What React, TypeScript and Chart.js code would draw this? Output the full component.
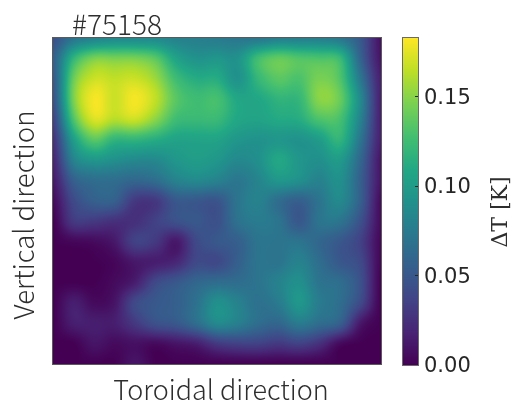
import React, { useEffect, useRef } from "react";
import { Chart, registerables } from "chart.js";

Chart.register(...registerables);

const figureTitle = "#75158";
const xLabel = "Toroidal direction";
const yLabel = "Vertical direction";
const colorbarLabel = "ΔT [K]";
const colorbarTicks = [0, 0.05, 0.1, 0.15];
const colorMax = 0.1825;
const viridisStops = ["#440154", "#482475", "#414487", "#355f8d", "#2a788e", "#21918c", "#22a884", "#44bf70", "#7ad151", "#bddf26", "#fde725"];

// Temperature change in mK, read row by row (top to bottom) from the picture
const deltaT_mK = [
  [45, 70, 80, 85, 85, 85, 80, 78, 75, 72, 72, 78, 78, 78, 72, 50, 8],
  [55, 118, 145, 145, 145, 135, 105, 92, 95, 92, 125, 138, 132, 130, 122, 58, 10],
  [50, 140, 168, 165, 168, 155, 125, 112, 112, 92, 120, 135, 130, 145, 132, 72, 15],
  [45, 145, 180, 168, 180, 165, 135, 125, 128, 108, 108, 118, 120, 150, 140, 85, 15],
  [35, 130, 172, 162, 168, 150, 125, 122, 122, 108, 105, 110, 112, 130, 128, 80, 15],
  [25, 100, 135, 118, 118, 112, 105, 105, 105, 95, 92, 95, 92, 100, 118, 70, 15],
  [18, 80, 95, 90, 85, 85, 95, 100, 95, 85, 90, 108, 95, 90, 98, 60, 10],
  [12, 55, 65, 65, 60, 65, 80, 85, 80, 72, 82, 95, 90, 80, 90, 55, 10],
  [5, 40, 55, 55, 30, 30, 50, 50, 48, 70, 80, 65, 55, 70, 85, 55, 5],
  [0, 30, 30, 25, 25, 35, 45, 50, 45, 68, 75, 70, 50, 70, 70, 45, 5],
  [0, 3, 5, 12, 35, 30, 12, 40, 50, 55, 70, 70, 70, 60, 50, 35, 3],
  [0, 0, 0, 3, 12, 15, 20, 40, 40, 55, 70, 70, 80, 65, 50, 40, 2],
  [0, 0, 0, 5, 15, 40, 50, 60, 65, 65, 70, 80, 90, 70, 65, 45, 0],
  [0, 15, 5, 10, 40, 50, 55, 68, 90, 80, 68, 75, 95, 75, 65, 40, 0],
  [0, 15, 15, 15, 30, 45, 50, 65, 85, 78, 65, 60, 75, 65, 55, 12, 0],
  [0, 0, 10, 5, 8, 5, 10, 15, 30, 35, 35, 30, 35, 25, 5, 0, 0],
  [0, 0, 0, 0, 10, 0, 0, 0, 0, 0, 0, 0, 0, 0, 0, 0, 0],
];

function hexToRgb(h: string) {
  return [1, 3, 5].map((i) => parseInt(h.slice(i, i + 2), 16));
}
const stopRgb = viridisStops.map(hexToRgb);

function viridis(t: number) {
  const c = Math.min(1, Math.max(0, t)) * (stopRgb.length - 1);
  const i = Math.min(stopRgb.length - 2, Math.floor(c));
  const f = c - i;
  return stopRgb[i].map((v, k) => v + (stopRgb[i + 1][k] - v) * f);
}

function cubic(a: number, b: number, c: number, d: number, t: number) {
  return b + 0.5 * t * (c - a + t * (2 * a - 5 * b + 4 * c - d + t * (3 * (b - c) + d - a)));
}

function sample(u: number, v: number) {
  const n = deltaT_mK.length - 1;
  const m = deltaT_mK[0].length - 1;
  const r = Math.min(n - 1, Math.max(0, Math.floor(v)));
  const c = Math.min(m - 1, Math.max(0, Math.floor(u)));
  const rowVal = (ri: number) => {
    const row = deltaT_mK[Math.min(n, Math.max(0, ri))];
    const g = (k: number) => row[Math.min(m, Math.max(0, k))];
    return cubic(g(c - 1), g(c), g(c + 1), g(c + 2), u - c);
  };
  return cubic(rowVal(r - 1), rowVal(r), rowVal(r + 1), rowVal(r + 2), v - r) / 1000;
}

const sansFont = '"Noto Sans CJK JP", "Noto Sans", sans-serif';
const textColor = "#2e2e2e";

function drawText(ctx: CanvasRenderingContext2D, text: string, x: number, y: number, font: string, rotate = 0, align: CanvasTextAlign = "center") {
  ctx.save();
  ctx.translate(x, y);
  ctx.rotate(rotate);
  ctx.font = font;
  ctx.fillStyle = textColor;
  ctx.textAlign = align;
  ctx.textBaseline = "middle";
  ctx.fillText(text, 0, 0);
  ctx.restore();
}

const heatmapPlugin = {
  id: "heatmap",
  beforeDatasetsDraw(chart: any) {
    const { ctx, chartArea: a, scales } = chart;
    const left = Math.round(a.left);
    const top = Math.round(a.top);
    const w = Math.round(a.right) - left;
    const h = Math.round(a.bottom) - top;
    const img = ctx.createImageData(w, h);
    for (let py = 0; py < h; py++) {
      const v = scales.y.getValueForPixel(top + py + 0.5);
      for (let px = 0; px < w; px++) {
        const u = scales.x.getValueForPixel(left + px + 0.5);
        const [r, g, b] = viridis(sample(u, v) / colorMax);
        const o = (py * w + px) * 4;
        img.data[o] = r;
        img.data[o + 1] = g;
        img.data[o + 2] = b;
        img.data[o + 3] = 255;
      }
    }
    ctx.putImageData(img, left, top);
  },
  afterDraw(chart: any) {
    const { ctx, chartArea: a } = chart;
    ctx.save();
    ctx.strokeStyle = "#5a5a5a";
    ctx.lineWidth = 1;
    ctx.strokeRect(Math.round(a.left) - 0.5, Math.round(a.top) - 0.5, a.width + 1, a.height + 1);
    ctx.restore();
    drawText(ctx, figureTitle, a.left + 19, a.top - 14, `300 28px ${sansFont}`, 0, "left");
    drawText(ctx, xLabel, a.left + 168, a.bottom + 26, `300 27px ${sansFont}`);
    drawText(ctx, yLabel, 24, a.top + 177, `300 27.5px ${sansFont}`, -Math.PI / 2);
  },
};

const colorbarPlugin = {
  id: "colorbarDecor",
  afterDraw(chart: any) {
    const { ctx, chartArea: a, scales } = chart;
    ctx.save();
    ctx.strokeStyle = "#6a6a6a";
    ctx.lineWidth = 1;
    ctx.strokeRect(Math.round(a.left) - 0.5, Math.round(a.top) - 0.5, a.width + 1, a.height + 1);
    ctx.strokeStyle = "#262626";
    for (const t of colorbarTicks) {
      const y = Math.round(scales.y.getPixelForValue(t)) + 0.5;
      if (t === 0) continue;
      ctx.beginPath();
      ctx.moveTo(a.right - 3, y);
      ctx.lineTo(a.right, y);
      ctx.stroke();
    }
    ctx.restore();
    drawText(ctx, colorbarLabel, 106, a.top + 174, '400 22px "DejaVu Serif", serif', -Math.PI / 2);
  },
};

export default function App() {
  const heatRef = useRef<HTMLCanvasElement>(null);
  const barRef = useRef<HTMLCanvasElement>(null);

  useEffect(() => {
    const gridPoints = deltaT_mK.flatMap((row, r) => row.map((val, c) => ({ x: c, y: r, v: val })));
    const heat = new Chart(heatRef.current!, {
      type: "scatter",
      data: { datasets: [{ data: gridPoints as any, pointRadius: 0, label: "ΔT" }] },
      options: {
        animation: false,
        responsive: false,
        devicePixelRatio: 1,
        layout: { padding: { top: 38, right: 14, left: 53, bottom: 43 } },
        plugins: { legend: { display: false }, tooltip: { enabled: false } },
        scales: {
          x: { type: "linear", min: 0, max: deltaT_mK[0].length - 1, display: false },
          y: { type: "linear", min: 0, max: deltaT_mK.length - 1, reverse: true, display: false },
        },
      },
      plugins: [heatmapPlugin],
    } as any);

    const bar = new Chart(barRef.current!, {
      type: "bar",
      data: {
        labels: ["ΔT"],
        datasets: [
          {
            data: [[0, colorMax]] as any,
            barPercentage: 1,
            categoryPercentage: 1,
            backgroundColor: (c: any) => {
              const { chart } = c;
              if (!chart.chartArea) return viridisStops[5];
              const g = chart.ctx.createLinearGradient(0, chart.scales.y.getPixelForValue(0), 0, chart.scales.y.getPixelForValue(colorMax));
              viridisStops.forEach((s, i) => g.addColorStop(i / (viridisStops.length - 1), s));
              return g;
            },
          },
        ],
      },
      options: {
        animation: false,
        responsive: false,
        devicePixelRatio: 1,
        layout: { padding: { top: 38, bottom: 42, left: 8, right: 0 } },
        plugins: { legend: { display: false }, tooltip: { enabled: false } },
        scales: {
          x: { display: false },
          y: {
            position: "right",
            min: 0,
            max: colorMax,
            afterFit: (s: any) => {
              s.width = 95;
            },
            afterBuildTicks: (s: any) => {
              s.ticks = colorbarTicks.map((value) => ({ value }));
            },
            grid: { display: false, drawTicks: false },
            border: { display: false },
            ticks: {
              padding: 6,
              labelOffset: 2,
              color: "#262626",
              font: { family: "DejaVu Sans", size: 21 },
              callback: (v: any) => Number(v).toFixed(2),
            },
          },
        },
      },
      plugins: [colorbarPlugin],
    } as any);

    return () => {
      heat.destroy();
      bar.destroy();
    };
  }, []);

  return (
    <div style={{ position: "absolute", left: 0, top: 0, width: 513, height: 407, overflow: "hidden", background: "#fff" }}>
      <canvas ref={heatRef} width={395} height={407} style={{ position: "absolute", left: 0, top: 0 }} />
      <canvas ref={barRef} width={118} height={407} style={{ position: "absolute", left: 395, top: 0 }} />
    </div>
  );
}
